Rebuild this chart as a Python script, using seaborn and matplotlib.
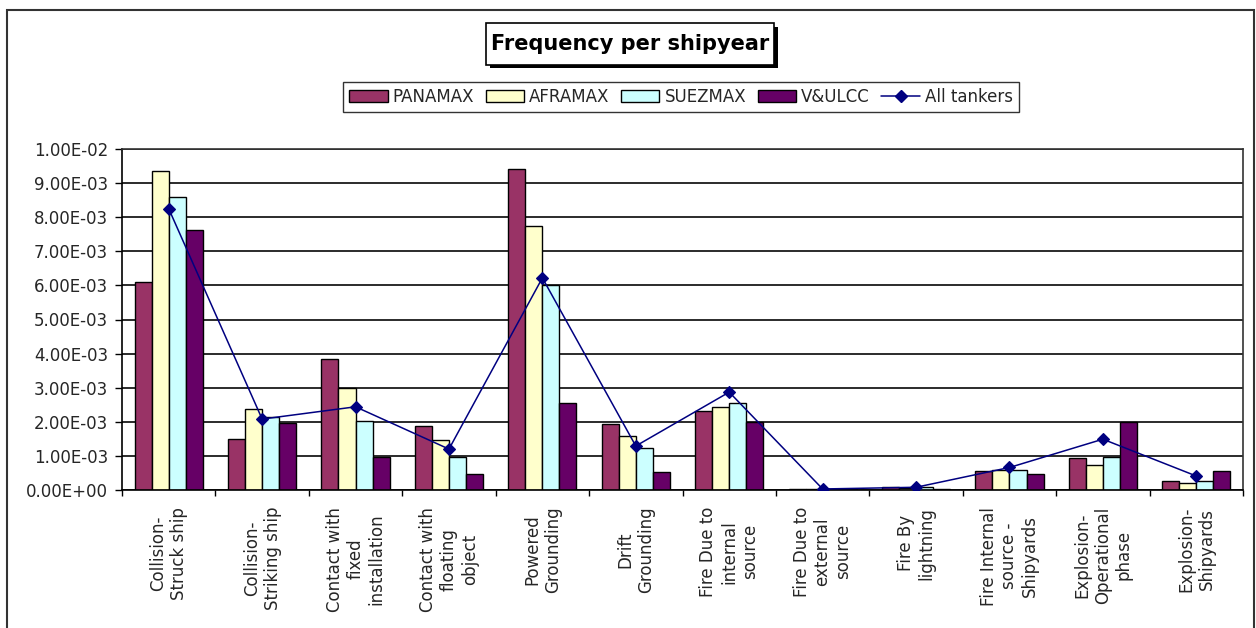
import numpy as np
import pandas as pd
import matplotlib
matplotlib.use("Agg")
import matplotlib.pyplot as plt
from matplotlib.patches import Rectangle, Patch
from matplotlib.lines import Line2D
from matplotlib.ticker import FuncFormatter, FixedLocator
import seaborn as sns

# Accident categories (multi-line tick labels)
categories = [
    "Collision-\nStruck ship",
    "Collision-\nStriking ship",
    "Contact with\nfixed\ninstallation",
    "Contact with\nfloating\nobject",
    "Powered\nGrounding",
    "Drift\nGrounding",
    "Fire Due to\ninternal\nsource",
    "Fire Due to\nexternal\nsource",
    "Fire By\nlightning",
    "Fire Internal\nsource -\nShipyards",
    "Explosion-\nOperational\nphase",
    "Explosion-\nShipyards",
]

# Frequency per shipyear by tanker class
panamax = [6.09e-3, 1.51e-3, 3.85e-3, 1.89e-3, 9.40e-3, 1.95e-3, 2.32e-3, 0.03e-3, 0.08e-3, 0.56e-3, 0.95e-3, 0.27e-3]
aframax = [9.36e-3, 2.39e-3, 2.99e-3, 1.46e-3, 7.73e-3, 1.58e-3, 2.42e-3, 0.02e-3, 0.06e-3, 0.60e-3, 0.74e-3, 0.21e-3]
suezmax = [8.58e-3, 2.14e-3, 2.03e-3, 0.97e-3, 6.00e-3, 1.22e-3, 2.55e-3, 0.02e-3, 0.08e-3, 0.60e-3, 0.98e-3, 0.27e-3]
vlcc = [7.63e-3, 1.97e-3, 0.97e-3, 0.47e-3, 2.56e-3, 0.52e-3, 1.98e-3, 0.02e-3, 0.04e-3, 0.46e-3, 2.00e-3, 0.56e-3]
all_tankers = [8.25e-3, 2.08e-3, 2.44e-3, 1.20e-3, 6.22e-3, 1.29e-3, 2.87e-3, 0.03e-3, 0.08e-3, 0.66e-3, 1.49e-3, 0.41e-3]

series_names = ["PANAMAX", "AFRAMAX", "SUEZMAX", "V&ULCC"]
line_name = "All tankers"
y_ticks = [0.0, 1e-3, 2e-3, 3e-3, 4e-3, 5e-3, 6e-3, 7e-3, 8e-3, 9e-3, 1e-2]
title_text = "Frequency per shipyear"

colors = ["#993366", "#FFFFCC", "#CCFFFF", "#660066"]
line_color = "#000080"

sns.set_theme(style="white")
plt.rcParams["font.family"] = ["DejaVu Sans"]

df = pd.DataFrame({
    "category": categories * 4,
    "tanker": sum([[n] * len(categories) for n in series_names], []),
    "freq": panamax + aframax + suezmax + vlcc,
})

W, H = 1256, 628
fig = plt.figure(figsize=(W / 100, H / 100), dpi=100)
fig.patch.set_facecolor("white")

# outer chart border (open at the bottom edge)
fig.add_artist(Rectangle((7 / W, -0.1), (1254 - 7) / W, (1 - 10 / H) + 0.1,
                         transform=fig.transFigure, fill=False,
                         edgecolor="#333333", linewidth=1.5))

ax = fig.add_axes([122 / W, 1 - 490 / H, (1243 - 122) / W, (490 - 149) / H])

sns.barplot(data=df, x="category", y="freq", hue="tanker",
            order=categories, hue_order=series_names, palette=colors,
            saturation=1, width=0.73, gap=0, edgecolor="black",
            linewidth=1.0, errorbar=None, legend=False, ax=ax, zorder=2)

sns.pointplot(x=categories, y=all_tankers, order=categories,
              color=line_color, markers="D", linestyles="-",
              linewidth=1.1, markersize=6.5, errorbar=None, ax=ax)
for coll in ax.collections:
    coll.set_zorder(4)
for ln in ax.lines:
    ln.set_zorder(4)

ax.set_xlim(-0.5, len(categories) - 0.5)
ax.set_ylim(0, 1e-2)
ax.set_xlabel("")
ax.set_ylabel("")

ax.yaxis.set_major_locator(FixedLocator(y_ticks))
ax.yaxis.set_major_formatter(FuncFormatter(lambda v, p: f"{v:.2E}"))
ax.yaxis.grid(True, color="#1a1a1a", linewidth=1.3)
ax.xaxis.grid(False)
ax.set_axisbelow(True)

ax.tick_params(axis="y", which="major", direction="out", length=5,
               width=1, color="black", pad=5, labelsize=12, left=True)
ax.tick_params(axis="x", which="major", length=0, pad=12, labelsize=12)
ax.xaxis.set_minor_locator(FixedLocator(np.arange(-0.5, len(categories), 1.0)))
ax.tick_params(axis="x", which="minor", direction="out", length=4.5,
               width=1, color="black", bottom=True)
for lab in ax.get_xticklabels():
    lab.set_rotation(90)
    lab.set_va("top")
    lab.set_ha("center")
    lab.set_multialignment("center")

for side in ["left", "bottom"]:
    ax.spines[side].set_color("black")
    ax.spines[side].set_linewidth(1.2)
for side in ["top", "right"]:
    ax.spines[side].set_color("#333333")
    ax.spines[side].set_linewidth(1.2)

# title box with drop shadow
fig.add_artist(Rectangle((490 / W, 1 - 68 / H), 288 / W, 41 / H,
                         transform=fig.transFigure, facecolor="black",
                         edgecolor="black", linewidth=0))
fig.add_artist(Rectangle((486 / W, 1 - 64.5 / H), 288 / W, 41 / H,
                         transform=fig.transFigure, facecolor="white",
                         edgecolor="black", linewidth=1.2))
fig.text(630 / W, 1 - 44 / H, title_text, ha="center", va="center",
         fontsize=15, fontweight="bold", color="black")

# legend
handles = [Patch(facecolor=c, edgecolor="black", linewidth=1.0) for c in colors]
handles.append(Line2D([], [], color=line_color, marker="D", markersize=6.5,
                      linewidth=1.1))
labels = series_names + [line_name]
leg = fig.legend(handles, labels, loc="center",
                 bbox_to_anchor=(681 / W, 1 - 97 / H),
                 bbox_transform=fig.transFigure, ncol=5, frameon=True,
                 fancybox=False, edgecolor="black", fontsize=12,
                 handlelength=2.3, handleheight=0.7, handletextpad=0.3,
                 columnspacing=0.7, borderpad=0.35, borderaxespad=0)
leg.get_frame().set_linewidth(1.0)

fig.savefig("out.png", dpi=100, facecolor="white")
